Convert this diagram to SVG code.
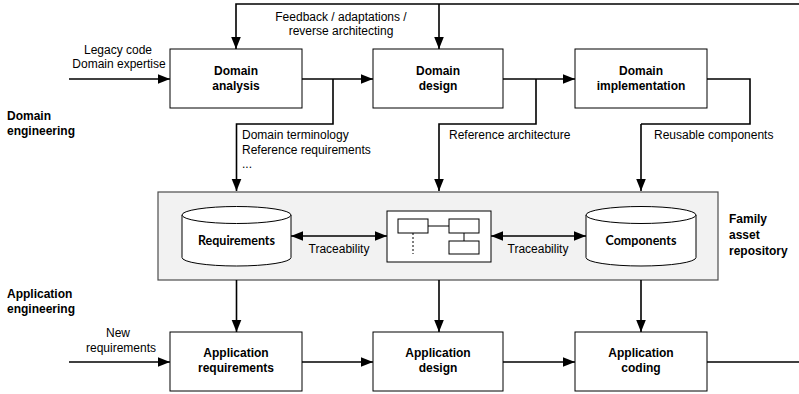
<svg xmlns="http://www.w3.org/2000/svg" width="799" height="394" viewBox="0 0 799 394">
<style>
.box{fill:#fff;stroke:#000;stroke-width:1}
.t{font-family:"Liberation Sans",Arial,sans-serif;font-size:12px;fill:#000}
.b{font-weight:bold}
.c{font-family:Lato,"Liberation Sans",sans-serif;font-size:12.5px;font-weight:bold;fill:#000}
.ln{fill:none;stroke:#000;stroke-width:1.6}
.arr{fill:none;stroke:#000;stroke-width:1.6;marker-end:url(#ah)}
.dbl{fill:none;stroke:#000;stroke-width:1.6;marker-end:url(#ah);marker-start:url(#ahs)}
</style>
<defs>
<marker id="ah" markerUnits="userSpaceOnUse" markerWidth="12" markerHeight="12" viewBox="0 0 12 12" refX="12" refY="6" orient="auto">
<path d="M0,1.2 L12,6 L0,10.8 Z" fill="#000"/>
</marker>
<marker id="ahs" markerUnits="userSpaceOnUse" markerWidth="12" markerHeight="12" viewBox="0 0 12 12" refX="0" refY="6" orient="auto">
<path d="M12,1.2 L0,6 L12,10.8 Z" fill="#000"/>
</marker>
</defs>

<g id="repository">
<rect x="158" y="192" width="560" height="88" fill="#f2f2f2" stroke="#4d4d4d" stroke-width="1.2"/>
</g>

<g id="connectors">
<path class="arr" d="M799,4 H236 V49"/>
<path class="arr" d="M439,4 V49"/>
<path class="arr" d="M69,79 H170"/>
<path class="arr" d="M302,79 H373"/>
<path class="arr" d="M503,79 H575"/>
<path class="arr" d="M333,79 V124 H236.5 V191"/>
<path class="arr" d="M536,79 V124 H439 V191"/>
<path class="ln" d="M707,79 H750 V124 H641"/>
<path class="arr" d="M641,124 V191"/>
<path class="dbl" d="M291,236 H387"/>
<path class="dbl" d="M491,236 H586"/>
<path class="arr" d="M236.5,280 V332"/>
<path class="arr" d="M439,280 V332"/>
<path class="arr" d="M641,280 V332"/>
<path class="arr" d="M69,362 H170"/>
<path class="arr" d="M302,362 H373"/>
<path class="arr" d="M503,362 H575"/>
<path class="ln" d="M707,362 H799"/>
</g>

<g id="labels">
<text class="t" x="341" y="21" text-anchor="middle">Feedback / adaptations /</text>
<text class="t" x="341" y="35" text-anchor="middle">reverse architecting</text>
<text class="t" x="118" y="54" text-anchor="middle">Legacy code</text>
<text class="t" x="119" y="68" text-anchor="middle">Domain expertise</text>
<text class="t" x="242" y="139">Domain terminology</text>
<text class="t" x="242" y="154">Reference requirements</text>
<text class="t" x="242" y="168">...</text>
<text class="t" x="449" y="139">Reference architecture</text>
<text class="t" x="654" y="139">Reusable components</text>
<text class="t" x="339" y="253" text-anchor="middle">Traceability</text>
<text class="t" x="538" y="253" text-anchor="middle">Traceability</text>
<text class="t" x="118" y="337" text-anchor="middle">New</text>
<text class="t" x="121" y="352" text-anchor="middle">requirements</text>
<text class="t b" x="7" y="120">Domain</text>
<text class="t b" x="7" y="135">engineering</text>
<text class="t b" x="7" y="298">Application</text>
<text class="t b" x="7" y="313">engineering</text>
<text class="t b" x="729" y="223">Family</text>
<text class="t b" x="729" y="239">asset</text>
<text class="t b" x="729" y="255">repository</text>
</g>

<g id="domain-analysis">
<rect class="box" x="170" y="49" width="132" height="59"/>
<text class="t b" x="236" y="75" text-anchor="middle">Domain</text>
<text class="t b" x="236" y="90" text-anchor="middle">analysis</text>
</g>
<g id="domain-design">
<rect class="box" x="373" y="49" width="130" height="59"/>
<text class="t b" x="438" y="75" text-anchor="middle">Domain</text>
<text class="t b" x="438" y="90" text-anchor="middle">design</text>
</g>
<g id="domain-implementation">
<rect class="box" x="575" y="49" width="132" height="59"/>
<text class="t b" x="641" y="75" text-anchor="middle">Domain</text>
<text class="t b" x="641" y="90" text-anchor="middle">implementation</text>
</g>

<g id="requirements-store">
<path d="M182,215 V257.5 A54.5,8.5 0 0 0 291,257.5 V215" fill="#fff" stroke="#000" stroke-width="1"/>
<ellipse cx="236.5" cy="215" rx="54.5" ry="8.5" fill="#fff" stroke="#000" stroke-width="1"/>
<text class="c" x="236.5" y="245" text-anchor="middle">Requirements</text>
</g>
<g id="architecture-model">
<rect x="387" y="211" width="104" height="51" fill="#fff" stroke="#000" stroke-width="1"/>
<rect x="398" y="219" width="30" height="14" fill="#fff" stroke="#000" stroke-width="1"/>
<rect x="449" y="219" width="30" height="14" fill="#fff" stroke="#000" stroke-width="1"/>
<rect x="449" y="241" width="30" height="13" fill="#fff" stroke="#000" stroke-width="1"/>
<path d="M428,226 H449 M464,233 V241" stroke="#000" stroke-width="1" fill="none"/>
<path d="M413,233 V254" stroke="#000" stroke-width="1" stroke-dasharray="2,2" fill="none"/>
</g>
<g id="components-store">
<path d="M586,215 V257.5 A55,8.5 0 0 0 696,257.5 V215" fill="#fff" stroke="#000" stroke-width="1"/>
<ellipse cx="641" cy="215" rx="55" ry="8.5" fill="#fff" stroke="#000" stroke-width="1"/>
<text class="c" x="641" y="245" text-anchor="middle">Components</text>
</g>

<g id="application-requirements">
<rect class="box" x="170" y="332" width="132" height="59"/>
<text class="t b" x="236" y="357" text-anchor="middle">Application</text>
<text class="t b" x="236" y="372" text-anchor="middle">requirements</text>
</g>
<g id="application-design">
<rect class="box" x="373" y="332" width="130" height="59"/>
<text class="t b" x="438" y="357" text-anchor="middle">Application</text>
<text class="t b" x="438" y="372" text-anchor="middle">design</text>
</g>
<g id="application-coding">
<rect class="box" x="575" y="332" width="132" height="59"/>
<text class="t b" x="641" y="357" text-anchor="middle">Application</text>
<text class="t b" x="641" y="372" text-anchor="middle">coding</text>
</g>
</svg>
